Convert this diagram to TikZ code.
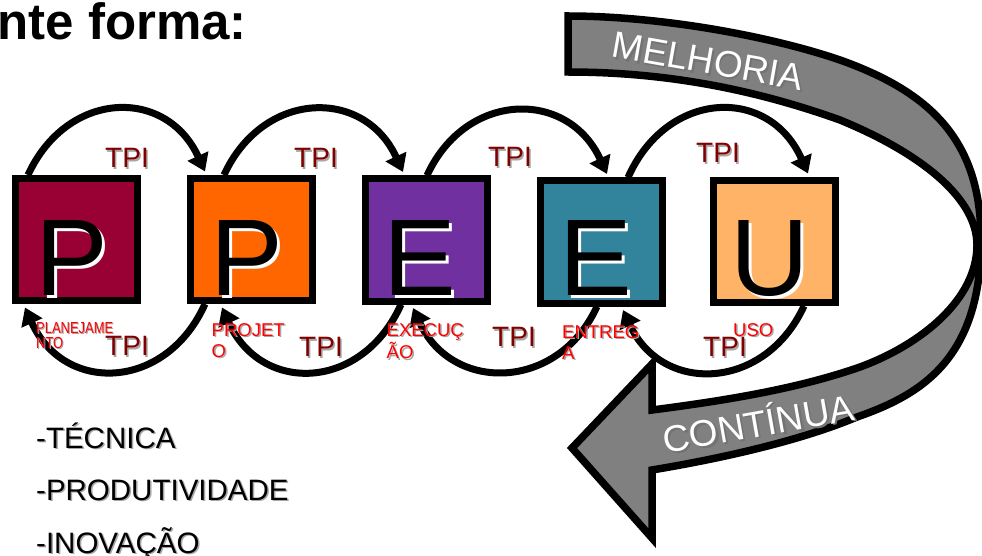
\documentclass[tikz,border=0pt]{standalone}
\usepackage{fontspec}
\usepackage{graphicx}
\setmainfont{Liberation Sans}
\usetikzlibrary{arrows.meta,calc}
\definecolor{cPa}{HTML}{990033}
\definecolor{cPb}{HTML}{FF6600}
\definecolor{cEa}{HTML}{7030A0}
\definecolor{cEb}{HTML}{31849B}
\definecolor{cU}{HTML}{FFB366}
\definecolor{tpired}{HTML}{800000}
\definecolor{bandgray}{HTML}{808080}
\definecolor{shgray}{HTML}{A6A6A6}
\newcommand\shtxt[3][1.5pt]{\leavevmode\rlap{\kern#1\raisebox{-#1}{\color{#2}#3}}#3}
\tikzset{
  box/.style={draw=black, line width=7pt, minimum size=122pt, inner sep=0pt},
  bigletter/.style={anchor=base, inner sep=0pt, font=\fontsize{109}{109}\selectfont},
  cyc/.style={line width=7pt, -{Triangle[length=17pt,width=22pt]}},
  tpi/.style={text=tpired, inner sep=0pt, font=\fontsize{28}{30}\selectfont},
  phase/.style={text=red, inner sep=0pt, anchor=north west, align=left, font=\fontsize{18.5}{21}\selectfont},
  listitem/.style={anchor=base west, inner sep=0pt, font=\fontsize{29.5}{30}\selectfont},
  band/.style={draw=black, fill=bandgray, line width=7.5pt, line join=miter},
  bandtext/.style={text=white, inner sep=0pt, font=\fontsize{37}{40}\selectfont},
}
\begin{document}
\begin{tikzpicture}[x=1pt, y=-1pt]
\fill[white] (0,0) rectangle (982,556);
\useasboundingbox (0,0) rectangle (982,556);

% title fragment
\node[anchor=base east, inner sep=0pt, font=\fontsize{51}{54}\selectfont\bfseries] (title) at (247,40) {nte forma:};

% big curved arrow
\draw[band] (568,16) .. controls (660,16) and (770,36) .. (840,60)
  .. controls (930,92) and (981,140) .. (981,240)
  .. controls (981,360) and (920,395) .. (857,417)
  .. controls (790,445) and (700,462) .. (652,470)
  -- (652,538) -- (572,448) -- (652,364) -- (652,410)
  .. controls (730,400) and (800,388) .. (860,367)
  .. controls (920,345) and (977,300) .. (977,245)
  .. controls (977,200) and (925,155) .. (840,120)
  .. controls (770,95) and (680,72) .. (568,72) -- cycle;
\node[bandtext, rotate=-10] (melh) at (708,62) {\shtxt[2pt]{black!55}{MELHORIA}};
\node[bandtext, rotate=10] (cont) at (758,422) {\shtxt[2pt]{black!55}{CONTÍNUA}};

% boxes
\node[box, fill=cPa] (b1) at (76.5,239.5) {};
\node[box, fill=cPb] (b2) at (251.5,239.5) {};
\node[box, fill=cEa] (b3) at (426.5,240) {};
\node[box, fill=cEb] (b4) at (601,242) {};
\node[box, fill=cU]  (b5) at (774.5,241.5) {};

% cycle arcs (top: forward, bottom: back)
\draw[cyc] ($(b1.north)+(-48.5,0)$) .. controls +(39,-85) and +(-39,-85) .. ($(b2.north)+(-46.5,-3.5)$);
\draw[cyc] ($(b2.north)+(-27.5,0)$) .. controls +(39,-85) and +(-39,-85) .. ($(b3.north)+(-23.5,-3.5)$);
\draw[cyc] ($(b3.north)+(0.5,0)$) .. controls +(39,-85) and +(-39,-85) .. ($(b4.north)+(6,-3.5)$);
\draw[cyc] ($(b4.north)+(27,0)$) .. controls +(39,-88) and +(-39,-88) .. ($(b5.north)+(33.5,-3.5)$);
\draw[cyc] ($(b2.south)+(-46.5,0)$) .. controls +(-39,87) and +(39,87) .. ($(b1.south)+(-51.5,3.5)$);
\draw[cyc] ($(b3.south)+(-25.5,0)$) .. controls +(-39,87) and +(39,87) .. ($(b2.south)+(-29.5,3.5)$);
\draw[cyc] ($(b4.south)+(-4,0)$) .. controls +(-39,85) and +(39,85) .. ($(b3.south)+(-13.5,3.5)$);
\draw[cyc] ($(b5.south)+(29.5,0)$) .. controls +(-39,85) and +(39,85) .. ($(b4.south)+(22,3.5)$);

% redraw box borders over arc ends
\node[box] at (b1) {};
\node[box] at (b2) {};
\node[box] at (b3) {};
\node[box] at (b4) {};
\node[box] at (b5) {};

% letters
\node[bigletter] (l1) at (71.5,295) {\shtxt[3pt]{white}{P}};
\node[bigletter] (l2) at (246.5,295) {\shtxt[3pt]{white}{P}};
\node[bigletter] (l3) at (420,295) {\shtxt[3pt]{white}{E}};
\node[bigletter] (l4) at (596,295) {\shtxt[3pt]{white}{E}};
\node[bigletter] (l5) at (770,295) {\shtxt[3pt]{white}{U}};

% TPI labels
\node[tpi] (t1) at (127,159) {\shtxt{shgray}{TPI}};
\node[tpi] (t2) at (316,159) {\shtxt{shgray}{TPI}};
\node[tpi] (t3) at (510,158) {\shtxt{shgray}{TPI}};
\node[tpi] (t4) at (718,154) {\shtxt{shgray}{TPI}};
\node[tpi] (u1) at (127,347) {\shtxt{shgray}{TPI}};
\node[tpi] (u2) at (321,348) {\shtxt{shgray}{TPI}};
\node[tpi] (u3) at (514,338) {\shtxt{shgray}{TPI}};
\node[tpi] (u4) at (725,348) {\shtxt{shgray}{TPI}};

% phase labels
\node[phase, font=\fontsize{16}{15}\selectfont] (p1) at (36,322) {\scalebox{0.81}[1]{\shtxt[1.2pt]{shgray}{PLANEJAME}}\\\scalebox{0.81}[1]{\shtxt[1.2pt]{shgray}{NTO}}};
\node[phase] (p2) at (211.5,323) {\shtxt{shgray}{PROJET}\\\shtxt{shgray}{O}};
\node[phase] (p3) at (386.5,323) {\shtxt{shgray}{EXECUÇ}\\\shtxt{shgray}{ÃO}};
\node[phase] (p4) at (562,325) {\shtxt{shgray}{ENTREG}\\\shtxt{shgray}{A}};
\node[phase] (p5) at (733,323) {\shtxt{shgray}{USO}};

% list
\node[listitem] (i1) at (36,448) {\shtxt{shgray}{-TÉCNICA}};
\node[listitem] (i2) at (36,500) {\shtxt{shgray}{-PRODUTIVIDADE}};
\node[listitem] (i3) at (36,553) {\shtxt{shgray}{-INOVAÇÃO}};
\end{tikzpicture}
\end{document}
